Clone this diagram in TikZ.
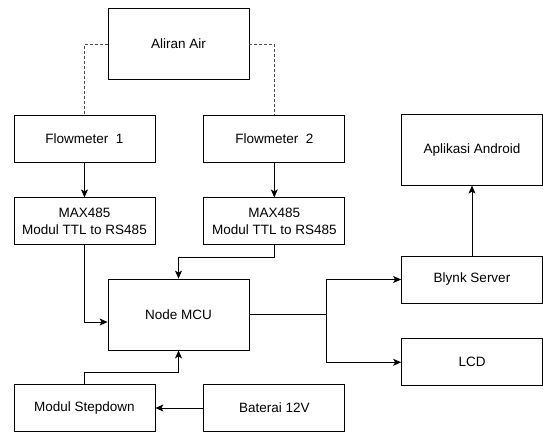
\documentclass[tikz,border=0pt]{standalone}
\usepackage{fontspec}
\setmainfont{Liberation Sans}
\usetikzlibrary{arrows.meta,positioning}

\begin{document}
\begin{tikzpicture}[
    x=1pt, y=-1pt,
    node distance=35pt and 48pt,
    >={Stealth[length=8pt,width=7pt,inset=2pt]},
    blok/.style={
        rectangle, draw, line width=0.8pt,
        minimum width=141pt, minimum height=47pt,
        align=center, inner sep=2pt,
        font=\fontsize{13.5pt}{17.5pt}\selectfont
    },
    blokbesar/.style={blok, minimum height=71pt},
    conn/.style={->, line width=0.8pt},
    putus/.style={line width=0.8pt, dashed, dash pattern=on 3pt off 2pt, color=black!70}
]
    \useasboundingbox (0,0) rectangle (543,432);

    % Nodes
    \node[blokbesar] (aliran) at (178.5,44) {Aliran Air};

    \node[blok] (flow1) at (84.5,138.5) {Flowmeter\ \ 1};
    \node[blok, right=of flow1] (flow2) {Flowmeter\ \ 2};

    \node[blok, below=of flow1] (max1) {MAX485\\Modul TTL to RS485};
    \node[blok, below=of flow2] (max2) {MAX485\\Modul TTL to RS485};

    \node[blokbesar] (mcu) at (178.5,314.5) {Node MCU};

    \node[blok] (step) at (84.5,408) {Modul Stepdown};
    \node[blok, right=of step] (bat) {Baterai 12V};

    \node[blok] (blynk) at (472,279.5) {Blynk Server};
    \node[blok, below=of blynk] (lcd) {LCD};
    \node[blokbesar, above=70pt of blynk] (app) {Aplikasi Android};

    \coordinate (split) at ([xshift=77pt]mcu.east);

    % Connections
    \draw[putus] (aliran.west) -| (flow1.north);
    \draw[putus] (aliran.east) -| (flow2.north);
    \draw[conn] (flow1) -- (max1);
    \draw[conn] (flow2) -- (max2);
    \draw[conn] (max1.south) |- ([yshift=-7.5pt]mcu.west);
    \draw[conn] (max2.south) -- ([yshift=-12pt]max2.south) -| (mcu.north);
    \draw[conn] (step.north) -- ([yshift=12pt]step.north) -| (mcu.south);
    \draw[conn] (bat) -- (step);
    \draw[line width=0.8pt] (mcu.east) -- (split);
    \draw[conn] (split) |- (blynk.west);
    \draw[conn] (split) |- (lcd.west);
    \draw[conn] (blynk) -- (app);

\end{tikzpicture}
\end{document}
